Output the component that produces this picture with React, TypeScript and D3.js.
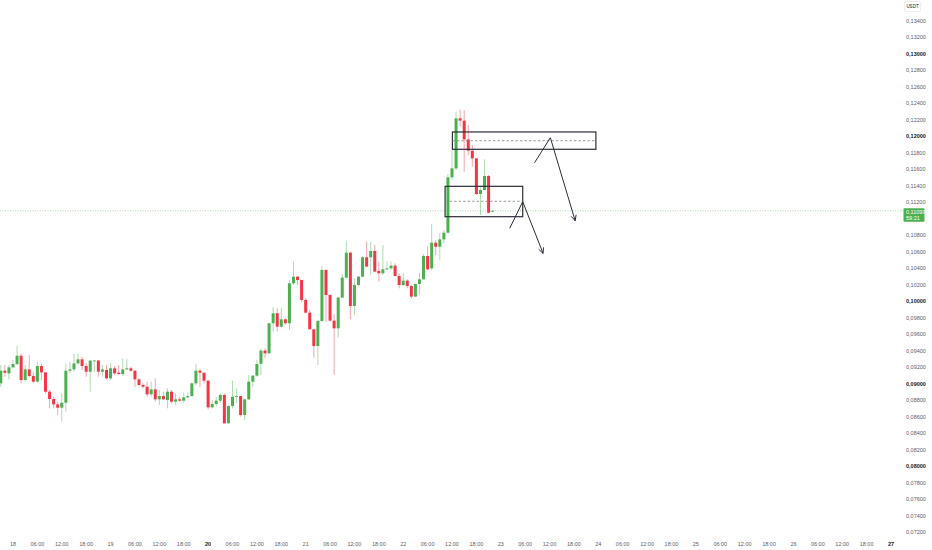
import React from 'react';
import * as d3 from 'd3';

const W = 932;
const H = 550;

// hourly candles, first one opens 17 Jan 21:00
const firstCandle = new Date(2025, 0, 17, 21);
const axisStart = new Date(2025, 0, 18);
const axisEnd = new Date(2025, 0, 27);

const opens = [
  0.09008, 0.09161, 0.09129, 0.09202, 0.09242, 0.09343, 0.09048, 0.09177, 0.09097, 0.09028, 0.09218, 0.09141, 0.08907,
  0.08818, 0.08753, 0.08713, 0.08773, 0.09161, 0.09177, 0.09250, 0.09299, 0.09218, 0.09149,
  0.09283, 0.09285, 0.09149, 0.09170, 0.09068, 0.09190, 0.09137, 0.09121, 0.09177, 0.09190,
  0.09161, 0.09056, 0.08988, 0.08967, 0.08875, 0.08935, 0.08814, 0.08854, 0.08806, 0.08907,
  0.08786, 0.08814, 0.08798, 0.08838, 0.08854, 0.09008, 0.09162, 0.09137, 0.09040, 0.08717,
  0.08758, 0.08798, 0.08867, 0.08523, 0.08733, 0.08846, 0.08854, 0.08624, 0.08814, 0.09028,
  0.09101, 0.09245, 0.09405, 0.09372, 0.09736, 0.09857, 0.09695, 0.09784, 0.09736, 0.10221,
  0.10301, 0.10261, 0.10019, 0.09865, 0.09663, 0.09461, 0.09764, 0.10382, 0.10079, 0.09768,
  0.09675, 0.10047, 0.10289, 0.10592, 0.09946, 0.10200, 0.10301, 0.10536, 0.10536, 0.10612,
  0.10370, 0.10342, 0.10390, 0.10402, 0.10435, 0.10309, 0.10200, 0.10253, 0.10188, 0.10059,
  0.10213, 0.10269, 0.10552, 0.10402, 0.10713, 0.10664, 0.10753, 0.10834, 0.11505, 0.11614,
  0.12220, 0.12192, 0.11965, 0.11828, 0.11735, 0.11303, 0.11351, 0.11521, 0.11088,
];
const highs = [
  0.09230, 0.09230, 0.09230, 0.09291, 0.09460, 0.09371, 0.09230, 0.09351, 0.09149, 0.09270, 0.09250, 0.09141, 0.08927,
  0.08846, 0.08786, 0.08887, 0.09250, 0.09270, 0.09371, 0.09371, 0.09331, 0.09250, 0.09291,
  0.09291, 0.09291, 0.09230, 0.09230, 0.09250, 0.09218, 0.09230, 0.09311, 0.09299, 0.09210,
  0.09169, 0.09068, 0.09008, 0.09028, 0.09028, 0.09069, 0.08927, 0.08907, 0.08947, 0.08927,
  0.08887, 0.08846, 0.08895, 0.08887, 0.09016, 0.09242, 0.09178, 0.09137, 0.09048, 0.08806,
  0.08846, 0.08887, 0.08887, 0.08745, 0.09040, 0.08947, 0.08854, 0.08826, 0.09109, 0.09109,
  0.09291, 0.09433, 0.09433, 0.09736, 0.09930, 0.09918, 0.09918, 0.09796, 0.10261, 0.10483,
  0.10310, 0.10261, 0.10039, 0.09897, 0.09675, 0.09776, 0.10431, 0.10390, 0.10087, 0.09849,
  0.10059, 0.10334, 0.10738, 0.10604, 0.10281, 0.10309, 0.10552, 0.10726, 0.10726, 0.10685,
  0.10483, 0.10685, 0.10483, 0.10483, 0.10463, 0.10342, 0.10342, 0.10269, 0.10200, 0.10221,
  0.10350, 0.10572, 0.10665, 0.10939, 0.10745, 0.10826, 0.10866, 0.11545, 0.11836, 0.12301,
  0.12329, 0.12321, 0.12139, 0.11897, 0.11735, 0.11384, 0.11723, 0.11533, 0.11105,
];
const lows = [
  0.08967, 0.09089, 0.09056, 0.09190, 0.09230, 0.09008, 0.09028, 0.09081, 0.09016, 0.09016, 0.09048, 0.08887, 0.08705,
  0.08705, 0.08624, 0.08543, 0.08664, 0.09129, 0.09149, 0.09230, 0.09169, 0.09089, 0.08907,
  0.09149, 0.09089, 0.09089, 0.09056, 0.09048, 0.09109, 0.09109, 0.09097, 0.09169, 0.09149,
  0.08967, 0.08967, 0.08947, 0.08846, 0.08846, 0.08786, 0.08745, 0.08806, 0.08705, 0.08766,
  0.08745, 0.08786, 0.08766, 0.08826, 0.08846, 0.08988, 0.08960, 0.09008, 0.08693, 0.08705,
  0.08725, 0.08774, 0.08523, 0.08523, 0.08705, 0.08766, 0.08604, 0.08564, 0.08806, 0.08968,
  0.09089, 0.09110, 0.09312, 0.09364, 0.09635, 0.09635, 0.09687, 0.09716, 0.09655, 0.10200,
  0.10200, 0.09998, 0.09857, 0.09655, 0.09320, 0.09231, 0.09756, 0.09756, 0.09756, 0.09110,
  0.09562, 0.10039, 0.10281, 0.09784, 0.09837, 0.10188, 0.10293, 0.10415, 0.10322, 0.10354,
  0.10241, 0.10322, 0.10382, 0.10382, 0.10301, 0.10160, 0.10188, 0.10160, 0.10039, 0.10059,
  0.10079, 0.10261, 0.10382, 0.10382, 0.10563, 0.10503, 0.10705, 0.10826, 0.11472, 0.11594,
  0.12119, 0.11573, 0.11775, 0.11634, 0.11291, 0.11048, 0.11351, 0.11068, 0.11080,
];
const closes = [
  0.09161, 0.09137, 0.09202, 0.09242, 0.09343, 0.09048, 0.09177, 0.09097, 0.09028, 0.09218, 0.09141, 0.08907, 0.08818,
  0.08753, 0.08713, 0.08773, 0.09161, 0.09177, 0.09250, 0.09299, 0.09218, 0.09149, 0.09283,
  0.09285, 0.09149, 0.09177, 0.09068, 0.09190, 0.09129, 0.09121, 0.09177, 0.09190, 0.09161,
  0.09056, 0.08988, 0.08967, 0.08874, 0.08935, 0.08814, 0.08854, 0.08814, 0.08907, 0.08786,
  0.08814, 0.08798, 0.08838, 0.08854, 0.09008, 0.09162, 0.09137, 0.09040, 0.08717, 0.08758,
  0.08798, 0.08867, 0.08523, 0.08733, 0.08846, 0.08854, 0.08624, 0.08814, 0.09028, 0.09101,
  0.09242, 0.09405, 0.09372, 0.09736, 0.09857, 0.09695, 0.09784, 0.09736, 0.10221, 0.10301,
  0.10261, 0.10019, 0.09865, 0.09663, 0.09461, 0.09764, 0.10382, 0.10079, 0.09768, 0.09675,
  0.10047, 0.10289, 0.10592, 0.09946, 0.10200, 0.10301, 0.10536, 0.10423, 0.10612, 0.10362,
  0.10342, 0.10390, 0.10402, 0.10435, 0.10309, 0.10200, 0.10253, 0.10188, 0.10059, 0.10213,
  0.10269, 0.10552, 0.10390, 0.10713, 0.10664, 0.10753, 0.10834, 0.11505, 0.11614, 0.12220,
  0.12192, 0.11965, 0.11828, 0.11735, 0.11303, 0.11351, 0.11521, 0.11076, 0.11099,
];

const lastPrice = 0.11099;
const countdown = '59:21';
const quoteCcy = 'USDT';
const boldDays = [20, 27];
const yTickValues = d3.range(0.072, 0.1341, 0.002);

// drawings, time in hours from 18 Jan 00:00
const zoneStart = [108.1, 106.3];
const zoneEnd = [143.4, 125.4];
const zoneTop = [0.12055, 0.11396];
const zoneBottom = [0.11845, 0.11028];
const zoneMid = [0.11949, 0.11215];
const arrowHours = [[128.3, 132.2, 138.3], [122.2, 125.4, 130.4]];
const arrowPrices = [[0.11682, 0.11985, 0.10979], [0.10887, 0.11210, 0.10584]];

const UP = '#4caf50';
const DOWN = '#f23645';
const UP_WICK = 'rgba(76,175,80,0.45)';
const DOWN_WICK = 'rgba(242,54,69,0.45)';
const FONT = '"Liberation Sans", Arial, sans-serif';

const App: React.FC = () => {
  const x = d3.scaleTime().domain([axisStart, axisEnd]).range([13, 891]);
  const y = d3.scaleLinear().domain([0.072, 0.134]).range([532.5, 21]);
  const atHour = (h: number) => x(new Date(axisStart.getTime() + h * 3600000));

  const fmtPrice = (v: number) => d3.format('.5f')(v).replace('.', ',');
  const xTicks = d3.timeHour.every(6)!.range(axisStart, d3.timeHour.offset(axisEnd, 1));
  const yP = y(lastPrice);

  const line = d3.line<[number, number]>();

  return (
    <svg width={W} height={H} style={{ position: 'absolute', left: 0, top: 0, background: '#fff' }}>
      {/* candles */}
      {opens.map((o, i) => {
        const cx = x(d3.timeHour.offset(firstCandle, i));
        const c = closes[i];
        const up = c >= o;
        const top = y(Math.max(o, c));
        const bot = y(Math.min(o, c));
        return (
          <g key={i}>
            <line x1={cx} x2={cx} y1={y(highs[i])} y2={y(lows[i])} stroke={up ? UP_WICK : DOWN_WICK} strokeWidth={1} />
            <rect x={cx - 1.5} y={top} width={3} height={Math.max(bot - top, 0.8)} fill={up ? UP : DOWN} />
          </g>
        );
      })}

      {/* last price line */}
      <line x1={0} x2={903} y1={yP} y2={yP} stroke={UP} strokeOpacity={0.6} strokeWidth={0.8} strokeDasharray="1 1.5" />

      {/* zones */}
      {zoneStart.map((s, i) => (
        <g key={'z' + i}>
          <rect x={atHour(s)} y={y(zoneTop[i])} width={atHour(zoneEnd[i]) - atHour(s)} height={y(zoneBottom[i]) - y(zoneTop[i])}
            fill="none" stroke="#2a2e39" strokeWidth={1.2} />
          <line x1={atHour(s)} x2={atHour(zoneEnd[i])} y1={y(zoneMid[i])} y2={y(zoneMid[i])} stroke="#8a8d96" strokeWidth={0.9} strokeDasharray="2.5 2" />
        </g>
      ))}

      {/* arrows */}
      {arrowHours.map((hs, i) => {
        const pts = hs.map((h, j) => [atHour(h), y(arrowPrices[i][j])] as [number, number]);
        const [px, py] = pts[pts.length - 1];
        const [qx, qy] = pts[pts.length - 2];
        const a = Math.atan2(py - qy, px - qx);
        const len = 6;
        const head: [number, number][] = [
          [px - len * Math.cos(a - 0.45), py - len * Math.sin(a - 0.45)],
          [px, py],
          [px - len * Math.cos(a + 0.45), py - len * Math.sin(a + 0.45)],
        ];
        return (
          <g key={'a' + i} fill="none" stroke="#2a2e39" strokeWidth={1}>
            <path d={line(pts)!} />
            <path d={line(head)!} />
          </g>
        );
      })}

      {/* price axis */}
      {yTickValues.map((v) => {
        const yy = y(v);
        if (yy > yP - 3 && yy < yP + 13) return null;
        const major = Math.abs(Math.round(v * 100) - v * 100) < 1e-6;
        return (
          <text key={v} x={906} y={yy} dy="0.35em" fontSize={5.5} fontFamily={FONT}
            fill={major ? '#131722' : '#5d606b'} fontWeight={major ? 700 : 400}>
            {fmtPrice(v)}
          </text>
        );
      })}
      <rect x={903.5} y={yP - 2.5} width={21} height={13.5} fill={UP} rx={1} />
      <text x={906} y={yP + 1.2} dy="0.35em" fontSize={5.5} fontFamily={FONT} fill="#fff">{fmtPrice(lastPrice)}</text>
      <text x={906} y={yP + 7.5} dy="0.35em" fontSize={5.5} fontFamily={FONT} fill="#fff">{countdown}</text>

      <rect x={904.5} y={1.5} width={16} height={10} fill="#fff" stroke="#e0e3eb" strokeWidth={0.6} rx={1.5} />
      <text x={912.5} y={6.5} dy="0.35em" textAnchor="middle" fontSize={4.5} fontFamily={FONT} fill="#131722">{quoteCcy}</text>

      {/* time axis */}
      {xTicks.map((t) => {
        const isDay = t.getHours() === 0;
        const label = isDay ? d3.timeFormat('%-d')(t) : d3.timeFormat('%H:%M')(t);
        const bold = isDay && boldDays.includes(t.getDate());
        return (
          <text key={t.getTime()} x={x(t)} y={546} textAnchor="middle" fontSize={5.5} fontFamily={FONT}
            fill={bold ? '#131722' : '#5d606b'} fontWeight={bold ? 700 : 400}>
            {label}
          </text>
        );
      })}
    </svg>
  );
};

export default App;
